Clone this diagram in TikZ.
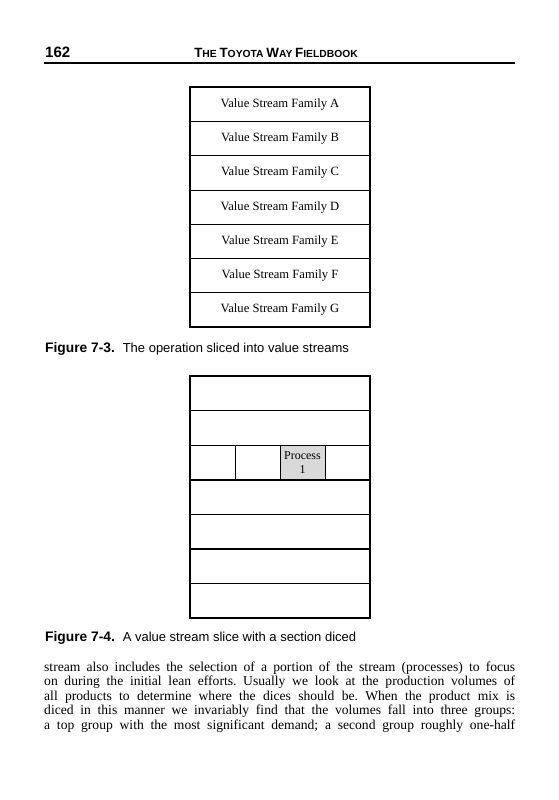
\documentclass[tikz,border=0pt]{standalone}
\usepackage{fontspec}
\setmainfont{Liberation Serif}
\setsansfont{Liberation Sans}
\usetikzlibrary{positioning}

% small caps made by hand for the running head
\newcommand{\hdcap}[2]{{\fontsize{13.4}{14}\selectfont #1}{\fontsize{10.3}{12}\selectfont #2}}

\begin{document}
\frenchspacing
\begin{tikzpicture}[x=1pt,y=-1pt,
  slice/.style={draw,line width=0.8pt,minimum width=180pt,minimum height=34.3pt,inner sep=0pt,outer sep=0pt,font=\fontsize{12.6}{14}\selectfont},
  dice/.style={draw,line width=0.8pt,minimum width=45pt,minimum height=34.6pt,inner sep=0pt,outer sep=0pt},
  frame/.style={draw,line width=2pt},
  caption/.style={anchor=base west,inner sep=0pt,font=\sffamily\fontsize{13}{15}\selectfont},
  bodyline/.style={anchor=base west,inner sep=0pt,font=\fontsize{13.6}{15}\selectfont}]

  \useasboundingbox (0,0) rectangle (558,800);

  % running head
  \node[anchor=base west,inner sep=0pt,font=\sffamily\bfseries\fontsize{15}{16}\selectfont] (page) at (45,57) {162};
  \node[anchor=base,inner sep=0pt,font=\sffamily\bfseries] (head) at (276,57)
    {\hdcap{T}{HE} \hdcap{T}{OYOTA} \hdcap{W}{AY} \hdcap{F}{IELDBOOK}};
  \coordinate (ruleL) at (44,63);
  \coordinate (ruleR) at (515,63);
  \draw[line width=1.6pt] (ruleL) -- (ruleR);

  % Figure 7-3: value stream families
  \foreach \fam [count=\i] in {A,B,C,D,E,F,G}
    \node[slice] (fam\fam) at (280,{87+34.3*(\i-0.5)}) {Value Stream Family \fam};
  \draw[frame] (famA.north west) rectangle (famG.south east);

  \node[caption] (cap3) at (45,352) {{\bfseries\fontsize{13.8}{15}\selectfont Figure 7-3.}\hspace{0.6em}The operation sliced into value streams};

  % Figure 7-4: one slice diced
  \foreach \i in {1,2,4,5,6,7}
    \node[slice] (row\i) at (280,{376+34.6*(\i-0.5)}) {};
  \node[dice] (cellA) at (212.5,462.5) {};
  \node[dice] (cellB) [right=0pt of cellA] {};
  \node[dice,fill=black!15,align=center,font=\fontsize{12}{14}\selectfont] (proc) [right=0pt of cellB] {Process\\1};
  \node[dice] (cellD) [right=0pt of proc] {};
  \draw[frame] (row1.north west) rectangle (row7.south east);

  \node[caption] (cap4) at (45,641) {{\bfseries\fontsize{13.8}{15}\selectfont Figure 7-4.}\hspace{0.6em}A value stream slice with a section diced};

  % body text
  \foreach \txt [count=\i] in {
    {stream also includes the selection of a portion of the stream (processes) to focus},
    {on during the initial lean efforts. Usually we look at the production volumes of},
    {all products to determine where the dices should be. When the product mix is},
    {diced in this manner we invariably find that the volumes fall into three groups:},
    {a top group with the most significant demand; a second group roughly one-half}}
    \node[bodyline] (body\i) at (44,{671+14.6*(\i-1)}) {\makebox[471pt][s]{\txt}};
\end{tikzpicture}
\end{document}
